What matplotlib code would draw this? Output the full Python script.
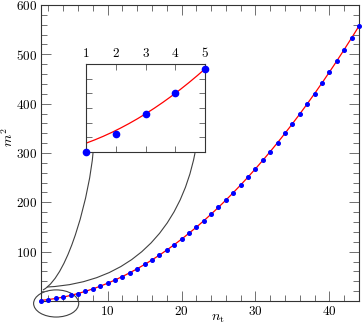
import numpy as np
import matplotlib
matplotlib.use("Agg")
import matplotlib.pyplot as plt
from matplotlib.patches import Ellipse, PathPatch
from matplotlib.path import Path

plt.rcParams['font.family'] = 'cmr10'
plt.rcParams['mathtext.fontset'] = 'cm'
plt.rcParams['axes.formatter.use_mathtext'] = True

# data
n_t = np.arange(1, 45)
m2 = [0.0, 2.5, 5.2, 8.0, 11.3, 15.2, 19.6, 24.5, 30.0, 36.0,
      42.5, 49.6, 57.2, 65.3, 74.0, 83.2, 92.9, 103.2, 114.0, 125.3,
      137.2, 149.6, 162.5, 176.0, 190.0, 204.5, 219.6, 235.2, 251.3, 268.0,
      285.2, 303.0, 321.2, 340.0, 359.3, 379.2, 399.6, 420.5, 442.0, 464.0,
      486.5, 509.6, 533.2, 557.3]
# quadratic fit m^2 = a n^2 + b n
fit_a = 0.2667
fit_b = 0.933

n_fine = np.linspace(1, 44, 300)
fit_curve = fit_a * n_fine**2 + fit_b * n_fine

W, H = 362, 325
fig = plt.figure(figsize=(W / 100, H / 100), dpi=100)

def px(x, y):
    # figure pixel -> figure fraction
    return x / W, 1 - y / H

ax = fig.add_axes([41 / W, 24 / H, 318 / W, 296 / H])
ax.plot(n_fine, fit_curve, color='red', lw=0.9, zorder=2)
ax.plot(n_t, m2, 'o', color='blue', ms=2.6, zorder=3, clip_on=False)
ax.set_xlim(1, 44)
ax.set_ylim(0, 600)
ax.set_xticks([10, 20, 30, 40])
ax.set_xticks(np.arange(2, 45, 2), minor=True)
ax.set_yticks([100, 200, 300, 400, 500, 600])
ax.set_yticks(np.arange(20, 600, 20), minor=True)
ax.tick_params(which='both', direction='in', top=True, right=True,
               color='0.35', labelsize=9.5, pad=3)
ax.tick_params(which='major', length=7.5, width=0.6)
ax.tick_params(which='minor', length=4, width=0.6)
for s in ax.spines.values():
    s.set_color('0.2')
    s.set_linewidth(0.8)
ax.set_xlabel(r'$n_\mathrm{t}$', fontsize=10)
ax.xaxis.set_label_coords((218 - 41) / 318, -0.038)
ax.set_ylabel(r'$m^2$', fontsize=10)
ax.yaxis.set_label_coords(-0.078, 0.554)

# zoom ellipse around the origin
ell = Ellipse((3.05, -5), 6.1, 55, fill=False, ec='0.25', lw=0.8, clip_on=False)
ax.add_patch(ell)

# connector curves to the inset
inv = fig.transFigure
left = Path([px(43, 290), px(70, 275), px(90, 190), px(93, 153)],
            [Path.MOVETO, Path.CURVE4, Path.CURVE4, Path.CURVE4])
right = Path([px(47, 287), px(130, 283), px(180, 230), px(195, 153)],
             [Path.MOVETO, Path.CURVE4, Path.CURVE4, Path.CURVE4])
for p in (left, right):
    fig.add_artist(PathPatch(p, transform=inv, fill=False, ec='0.25', lw=0.8))

# inset
ins = fig.add_axes([86 / W, (H - 152) / H, 119 / W, 88 / H])
ins.plot(n_fine, fit_curve, color='red', lw=0.9, zorder=2)
ins.plot(n_t[:5], m2[:5], 'o', color='blue', ms=4.5, zorder=3, clip_on=False)
ins.set_xlim(1, 5)
ins.set_ylim(0, 12)
ins.set_xticks([1, 2, 3, 4, 5])
ins.set_yticks([2, 4, 6, 8, 10])
ins.tick_params(direction='in', top=True, right=True, labeltop=True,
                labelbottom=False, labelleft=False, length=4.5, width=0.6,
                color='0.35', labelsize=9.5, pad=3)
ins.set_facecolor('white')
for s in ins.spines.values():
    s.set_color('0.2')
    s.set_linewidth(0.8)

fig.savefig('out.png', dpi=100)
